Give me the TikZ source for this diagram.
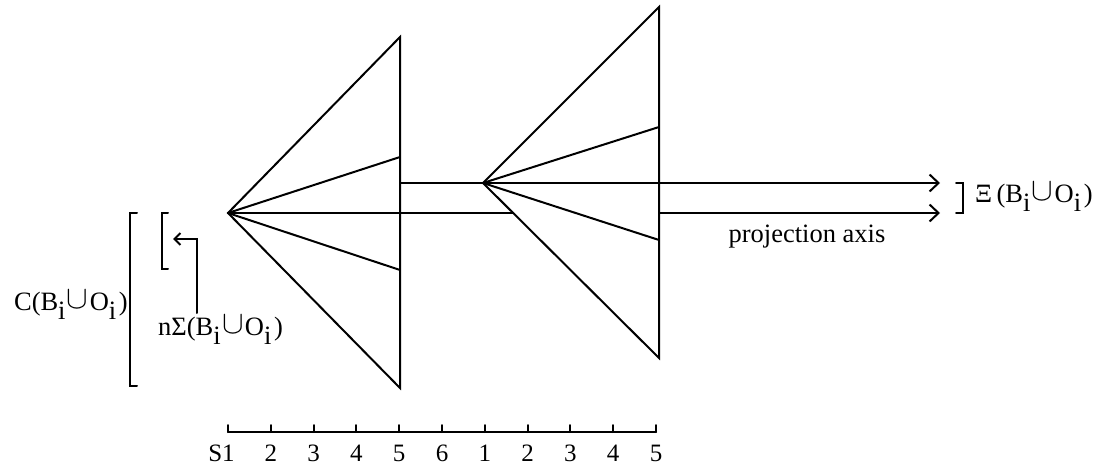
\documentclass[tikz,border=0pt]{standalone}
\usepackage{fontspec}
\setmainfont{Liberation Serif}
\usetikzlibrary{arrows.meta}
\newcommand{\mysub}[1]{\raisebox{-0.35em}{#1}}
\newcommand{\BO}{(B\mysub{i}\kern0.05em\raisebox{0.1em}{\scalebox{1.3}{$\cup$}}\kern0.05em O\mysub{i}\kern0.1em)}
\tikzset{
  ln/.style={line width=2pt, line cap=round, line join=miter},
  arr/.style={ln, -{Straight Barb[length=9pt,width=17pt,line width=2pt]}},
  sarr/.style={ln, -{Straight Barb[length=6pt,width=12pt,line width=2pt]}},
  lbl/.style={inner sep=0pt, font=\fontsize{26.5}{30}\selectfont},
  num/.style={inner sep=0pt, anchor=base, font=\fontsize{25}{28}\selectfont}
}
\begin{document}
\begin{tikzpicture}[x=1pt,y=-1pt]
\useasboundingbox (0,0) rectangle (1097,468);
% triangle 1
\coordinate (a1) at (228,213);
\coordinate (t1) at (400,37);
\coordinate (b1) at (400,388);
\coordinate (u1) at (400,157);
\coordinate (l1) at (400,270);
\draw[ln] (t1) -- (a1) -- (b1) -- cycle;
\draw[ln] (a1) -- (u1);
\draw[ln] (a1) -- (l1);
% triangle 2
\coordinate (a2) at (483,183);
\coordinate (t2) at (659,7);
\coordinate (b2) at (659,358);
\coordinate (u2) at (659,127);
\coordinate (l2) at (659,240);
\draw[ln] (t2) -- (a2) -- (b2) -- cycle;
\draw[ln] (a2) -- (u2);
\draw[ln] (a2) -- (l2);
% projection lines
\coordinate (s1) at (400,183);
\coordinate (e1) at (940,183);
\coordinate (m2) at (513,213);
\coordinate (s2) at (659,213);
\coordinate (e2) at (940,213);
\draw[arr] (s1) -- (e1);
\draw[ln] (a1) -- (m2);
\draw[arr] (s2) -- (e2);
% right bracket and label
\draw[ln] (956,183) -- (963,183) -- (963,213) -- (956,213);
\node[lbl, anchor=west] (xi) at (975,197) {Ξ\,\BO};
\node[lbl, anchor=center] (pa) at (807,237) {projection axis};
% left brackets
\draw[ln] (137,213) -- (130,213) -- (130,386) -- (137,386);
\draw[ln] (168,213) -- (162,213) -- (162,269) -- (168,269);
\node[lbl, anchor=east] (c) at (128,305) {C\BO};
\node[lbl, anchor=west] (ns) at (158,330) {nΣ\BO};
\coordinate (q1) at (197,313);
\coordinate (q2) at (197,239);
\coordinate (q3) at (173,239);
\draw[sarr] (q1) -- (q2) -- (q3);
% scale
\draw[ln] (228,432) -- (656,432);
\foreach \i in {0,...,10} {
  \pgfmathsetmacro{\xx}{228+42.8*\i}
  \draw[ln] (\xx,425) -- (\xx,432);
}
\foreach \i/\t in {1/2,2/3,3/4,4/5,5/6,6/1,7/2,8/3,9/4,10/5} {
  \pgfmathsetmacro{\xx}{228+42.8*\i}
  \node[num] (n\i) at (\xx,461) {\t};
}
\node[num] (n0) at (221.5,461) {S1};
\end{tikzpicture}
\end{document}
